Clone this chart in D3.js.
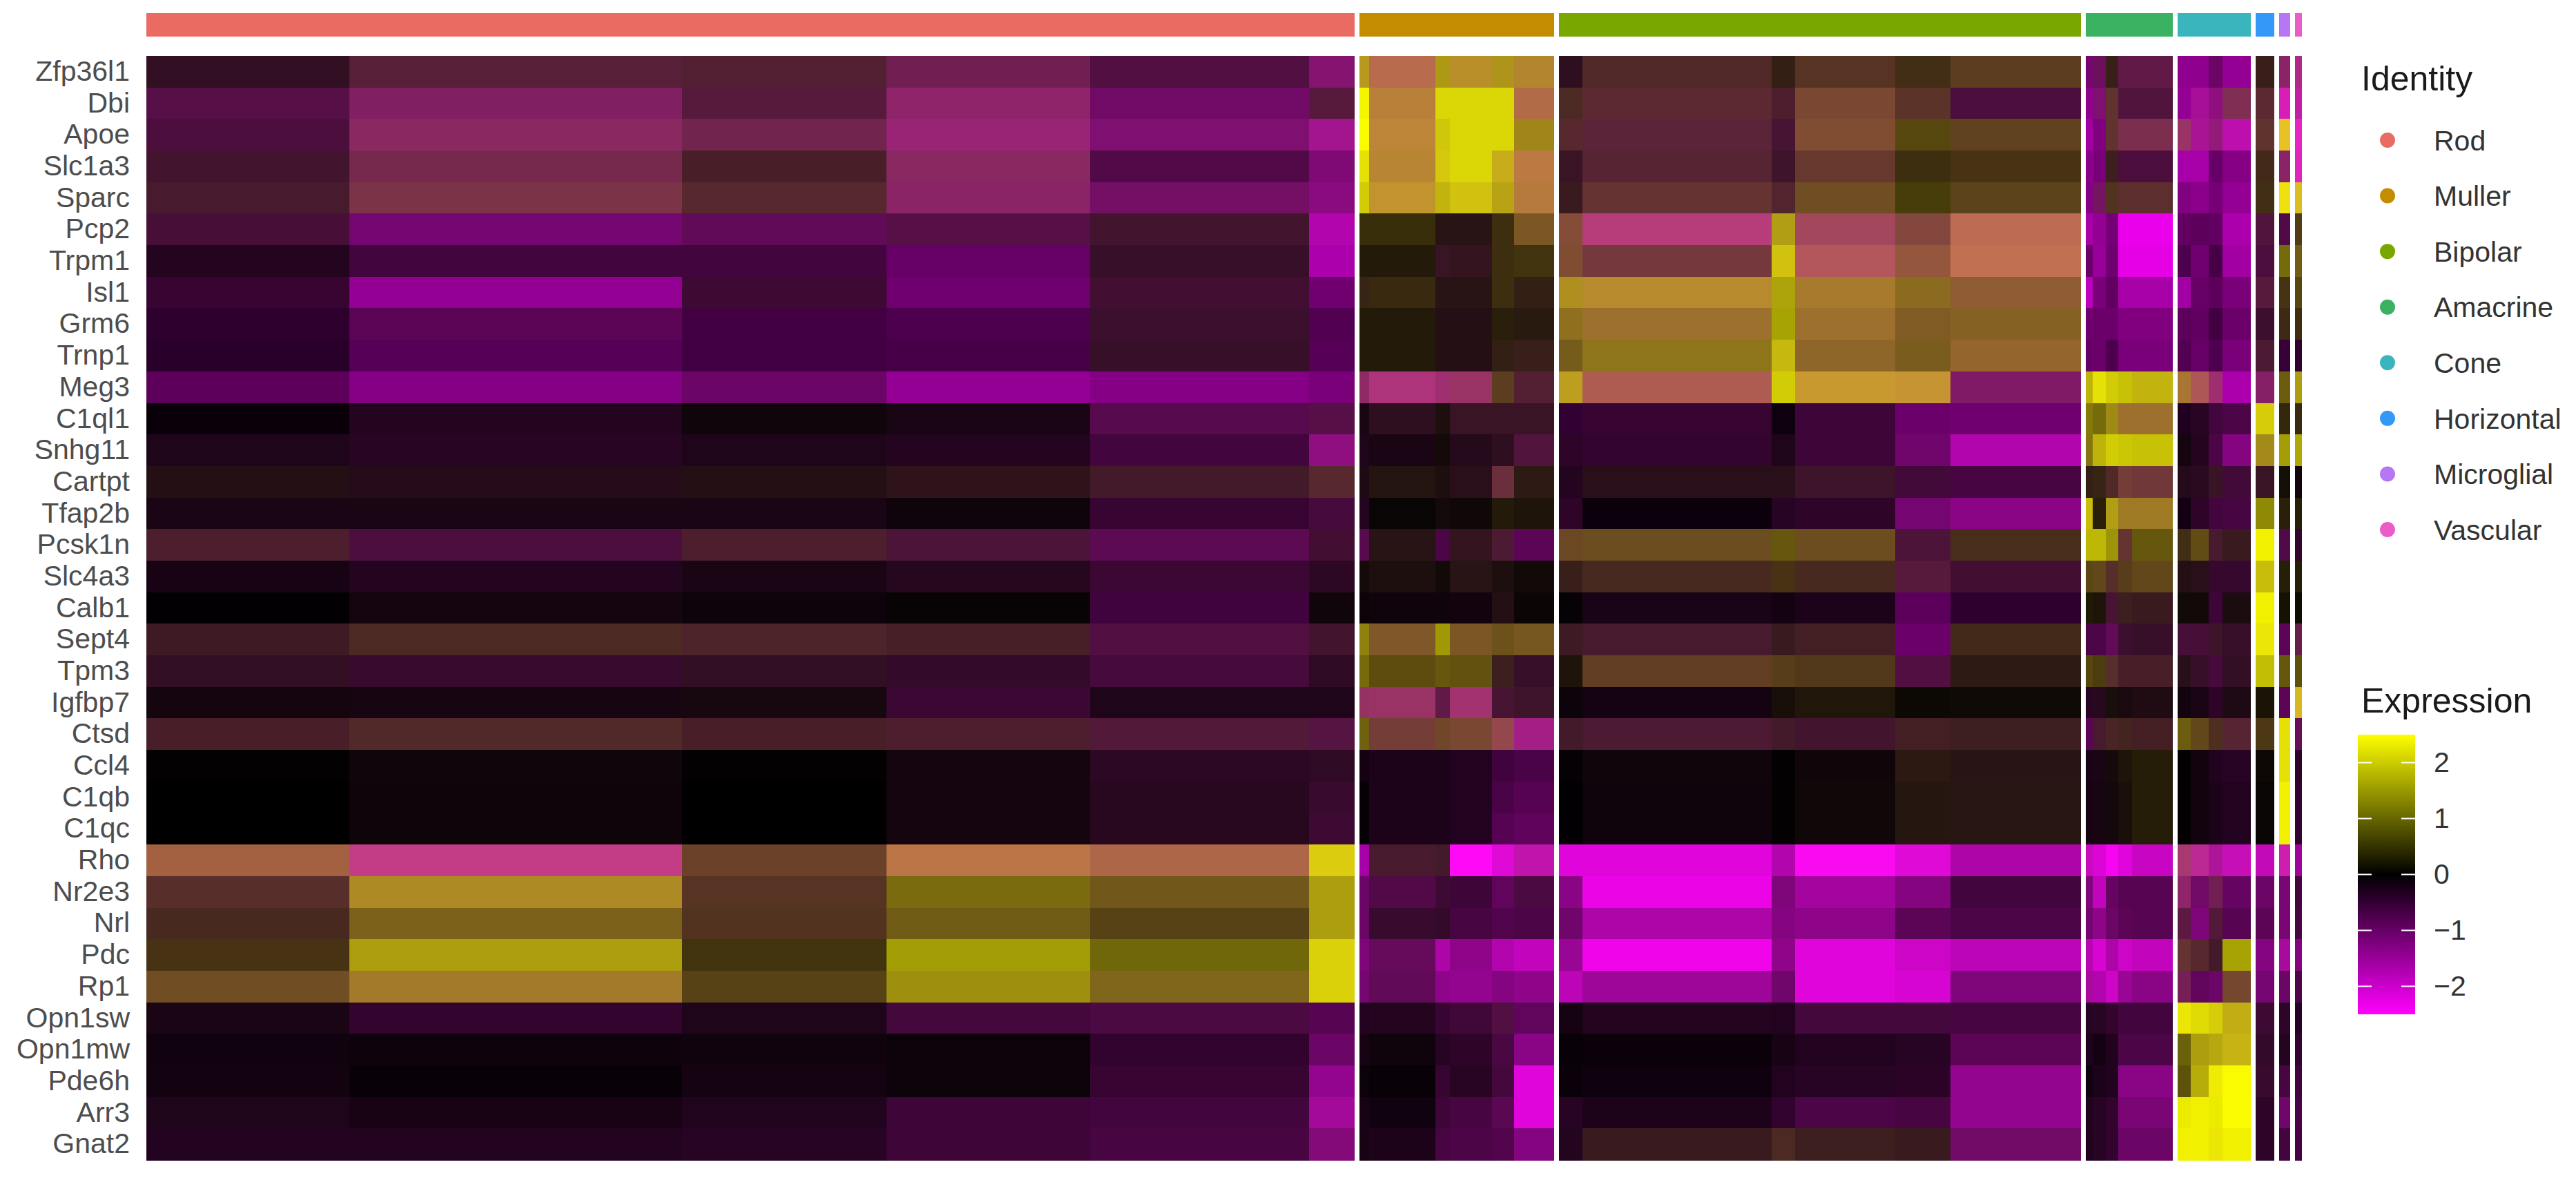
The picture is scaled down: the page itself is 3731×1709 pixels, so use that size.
<!DOCTYPE html>
<html>
<head>
<meta charset="utf-8">
<script src="https://cdn.jsdelivr.net/npm/d3@7"></script>
<style>
  html, body { margin: 0; padding: 0; background: #fff; }
  text { font-family: "Liberation Sans", Arial, sans-serif; }
</style>
</head>
<body>
<div id="chart"></div>
<script>
const width = 3731;
const height = 1709;

const genes = ["Zfp36l1", "Dbi", "Apoe", "Slc1a3", "Sparc", "Pcp2", "Trpm1", "Isl1", "Grm6", "Trnp1", "Meg3",
  "C1ql1", "Snhg11", "Cartpt", "Tfap2b", "Pcsk1n", "Slc4a3", "Calb1", "Sept4", "Tpm3", "Igfbp7", "Ctsd",
  "Ccl4", "C1qb", "C1qc", "Rho", "Nr2e3", "Nrl", "Pdc", "Rp1", "Opn1sw", "Opn1mw", "Pde6h", "Arr3", "Gnat2"];

const identities = ["Rod", "Muller", "Bipolar", "Amacrine", "Cone", "Horizontal", "Microglial", "Vascular"];
const identityColors = ["#E96B62", "#C48C00", "#7AA600", "#3AB262", "#3BB5BD", "#3399F8", "#B677F5", "#EA5CC8"];

// cells in each sub-cluster, one list per identity
const clusterCells = [
  [294, 482, 296, 295, 317, 66],
  [14, 96, 21, 61, 32, 58],
  [34, 274, 34, 145, 80, 189],
  [10, 19, 18, 20, 59],
  [19, 26, 20, 41],
  [27],
  [16],
  [10]
];

const legendTicks = [-2, -1, 0, 1, 2];

// Each sub-cluster holds cells above and below zero, which blend into brown and orange when
// squeezed into the picture, so each block has two values: mean of the high part, mean of the low part.
const exprHigh = [
  [.15,.3,.3,.3,.15,.2, 1.5,1.05,1.5,1.4,1.45,1.3, .15,.4,.3,.5,.45,.6, .05,.15,.3,.25,.25, 0,0,.05,0, .3,.35,.4],
  [.15,.3,.25,.35,.1,.25, 2.4,1.25,2.1,2.1,2.1,1.05, .4,.4,.3,.7,.5,.15, 0,.15,.5,.2,.2, 0,.15,.15,.45, .4,.3,.3],
  [.15,.4,.35,.35,.15,.2, 2.45,1.3,1.95,2.1,2.1,1.3, .4,.35,.2,.75,.7,.65, 0,0,.5,.45,.45, .5,.2,.25,.15, .5,1.9,.35],
  [.2,.4,.3,.4,.1,.1, 2.2,1.3,1.95,2.1,1.7,1.2, .2,.35,.2,.55,.45,.5, 0,0,.3,.15,.15, 0,0,0,0, .4,.35,.35],
  [.25,.5,.4,.35,.15,.1, 2,1.45,1.75,1.9,1.6,1.2, .25,.5,.35,.75,.6,.65, 0,.2,.5,.45,.45, 0,0,0,0, .45,2.2,1.85],
  [.15,.05,.1,.15,.2,.05, .45,.45,.2,.2,.45,.85, .75,.6,1.55,.7,.7,1.05, 0,0,0,0,0, 0,0,0,0, .2,.1,.6],
  [.05,.05,.05,0,.15,0, .25,.25,.2,.2,.45,.5, .75,.55,1.9,.85,.85,1.1, 0,0,0,0,0, 0,0,0,0, .15,1.05,.9],
  [.05,0,.1,0,.15,0, .35,.4,.2,.2,.45,.3, 1.4,1.35,1.6,1.2,1.05,.9, 0,0,0,0,0, 0,0,0,0, .25,.5,.7],
  [0,.05,0,0,.15,0, .25,.25,.15,.15,.3,.25, 1.1,1.1,1.6,1.1,.9,.95, 0,0,0,0,0, 0,0,0,0, .15,.4,.45],
  [0,0,0,0,.15,0, .25,.25,.15,.15,.3,.3, .9,1.15,1.8,1,.9,1, 0,0,0,0,0, 0,0,0,0, .25,0,0],
  [0,0,.05,0,0,0, .4,.5,.45,.5,.6,.3, 1.55,.9,2,1.5,1.45,.25, 1.75,2.2,2,1.9,1.75, 1.15,.85,.45,0, .3,.9,1.55],
  [0,.05,.05,.05,.1,.15, .05,.15,.15,.2,.2,.2, 0,.05,0,.05,0,0, 1.2,1.05,1.35,1.1,1.1, 0,.05,.05,.05, 2,.4,.4],
  [.05,.05,.05,.05,.05,.15, .05,.05,.1,.1,.15,.2, .05,.05,.05,.05,.05,.05, 1.15,1.75,2,1.95,1.9, .05,.05,.05,.05, 1.35,1.55,1.65],
  [.15,.12,.15,.2,.25,.4, .1,.2,.15,.15,.45,.25, .05,.15,.15,.2,.1,.05, .3,.35,.4,.6,.55, .1,.1,.2,.1, .2,.15,.05],
  [.05,.05,.05,.03,.05,.1, .05,.05,.1,.08,.25,.2, .05,0,.03,.05,.05,.05, 1.85,.3,1.55,1.2,1.2, 0,.05,.05,.05, 1.35,.3,.3],
  [.3,.15,.3,.2,.1,.15, .1,.2,.05,.2,.25,.05, .7,.75,.85,.75,.2,.45, 1.8,1.8,1.45,.5,.85, .45,.75,.25,.25, 2.35,.1,.05],
  [.03,.05,.05,.08,.08,.08, .1,.15,.1,.2,.15,.1, .3,.4,.5,.4,.25,.15, .7,.7,.45,.6,.7, .15,.15,.08,.08, 1.85,.3,.3],
  [0,.05,.03,.03,.03,.05, .03,.03,.03,.03,.15,.06, .02,.03,.02,.03,0,0, .25,.2,.2,.3,.25, .1,.1,.05,.12, 2.35,.18,.12],
  [.25,.4,.35,.3,.15,.2, 1.25,.85,1.5,.85,.8,.85, .25,.25,.25,.3,0,.4, .05,.05,.1,.15,.15, .15,.15,.2,.15, 2.25,.05,.3],
  [.15,.1,.15,.1,.1,.1, 1.05,.75,.85,.8,.3,.15, .2,.6,.6,.55,.15,.25, .7,.6,.45,.3,.3, .15,.15,.1,.15, 1.85,.85,.8],
  [.05,.05,.08,.08,.05,.05, .5,.5,.25,.5,.2,.2, .03,.03,.15,.22,.08,.1, .05,.08,.15,.1,.12, .03,.05,.05,.1, .2,.05,1.8],
  [.3,.4,.3,.3,.25,.2, .95,.6,.7,.7,.7,.3, .25,.25,.25,.2,.3,.3, .05,.25,.35,.35,.3, .9,.7,.45,.35, .55,2.2,.15],
  [.01,.05,.01,.05,.08,.1, .02,.03,.03,.03,.03,.03, .01,.05,.01,.06,.25,.2, .03,.05,.1,.2,.28, .01,.03,.03,.03, .08,2.2,.03],
  [0,.04,0,.05,.08,.1, .01,.03,.03,.03,.03,.03, 0,.04,.01,.08,.22,.22, .03,.05,.08,.15,.28, .01,.03,.03,.03, .05,2.35,.03],
  [0,.04,0,.05,.08,.1, .01,.03,.03,.03,.03,.03, 0,.04,.01,.08,.22,.22, .03,.05,.08,.15,.28, .01,.03,.03,.03, .05,2.35,.03],
  [.95,.6,.65,1.15,1,2, 0,.25,.25,.1,.1,.2, .05,.05,.05,.1,.1,.05, .1,.05,.05,.05,.05, .55,.4,.2,.15, .1,.3,.05],
  [.45,1.35,.5,1.05,.85,1.55, .05,.1,.1,.05,.05,.1, .05,.05,.05,.05,.05,.05, .05,.05,.05,.05,.05, .35,.1,.3,.05, .05,.05,.05],
  [.4,.95,.5,.9,.65,1.55, .05,.1,.1,.05,.05,.05, .05,.05,.05,.05,.05,.05, .05,.05,.05,.05,.05, .25,.05,.25,.05, .05,.05,.05],
  [.5,1.55,.5,1.55,1,2.05, .05,.1,.05,.05,.05,.05, .05,.05,.05,.05,.05,.05, .05,.05,.05,.05,.05, .5,.4,.25,1.6, .05,.1,.05],
  [.75,1.2,.65,1.4,1,2.05, .05,.1,.05,.05,.05,.05, .05,.05,.05,.05,.05,.05, .1,.05,.05,.05,.05, .3,.05,.05,.7, .05,.05,.05],
  [.05,.05,.05,.08,.1,.05, .03,.05,.05,.08,.15,.05, .03,.05,.03,.08,.08,.05, .03,.05,.05,.05,.05, 2.25,2.15,2,1.7, .1,.05,.02],
  [.02,.02,.03,.02,.03,.05, .03,.03,.03,.05,.08,.05, .01,.01,.03,.03,.03,.05, .02,.02,.03,.05,.05, .95,1.55,1.65,1.75, .1,.05,.03],
  [.03,.01,.03,.02,.05,.05, .02,.01,.05,.05,.08,.05, .01,.01,.03,.03,.03,.05, .02,.02,.03,.05,.05, .8,1.7,2.3,2.45, .1,.05,.03],
  [.05,.03,.03,.05,.05,.1, .03,.02,.05,.05,.08,.05, .03,.03,.03,.05,.05,.05, .02,.03,.03,.05,.05, 2.3,2.35,2.3,2.45, .05,.05,.03],
  [.03,.03,.03,.05,.05,.1, .03,.03,.05,.05,.05,.05, .05,.25,.4,.3,.25,.1, .03,.03,.03,.05,.05, 2.35,2.35,2.25,2.35, .05,.05,.03]
];

const exprLow = [
  [.35,.55,.5,.8,.65,1.1, .3,.75,.2,.4,.25,.45, .3,.4,.2,.35,.2,.3, 1.1,.9,.25,.7,.7, 1.4,1.4,1,1.45, .25,1,1.3],
  [.7,.95,.6,1.05,1,.6, 0,.55,.05,.05,.05,.7, .35,.5,.45,.5,.4,.6, 1.4,1.1,.45,.6,.6, 1.45,1.5,1.25,.8, .5,1.8,1.6],
  [.6,.95,.75,1.15,1.1,1.4, 0,.55,.1,.05,.05,.25, .45,.55,.5,.5,.15,.3, 1.6,1.25,.45,.75,.75, 1,1.45,1.2,1.7, .45,.35,1.9],
  [.45,.75,.4,.95,.7,1.15, .05,.5,.15,.05,.25,.65, .35,.5,.4,.45,.15,.2, 1.35,1.2,.3,.6,.6, 1.65,1.65,1,1.3, .25,1,1.85],
  [.45,.7,.45,1,1,1.25, .05,.45,.15,.15,.2,.6, .3,.5,.45,.35,.1,.25, 1.3,.95,.3,.45,.45, 1.25,1.35,1.15,1.45, .2,.15,.3],
  [.55,1.1,.85,.7,.45,1.7, .1,.1,.2,.2,.15,.35, .55,1.2,.2,.9,.6,.8, 1.65,1.45,1.15,2.3,2.3, .95,.9,.95,1.7, .6,.7,.2],
  [.3,.6,.6,1,.4,1.7, .1,.1,.35,.3,.15,.15, .5,.6,.15,.9,.6,.8, 1.05,1.5,1.1,2.25,2.25, .75,1.1,.7,1.6, .6,.1,.2],
  [.5,1.45,.5,1.1,.5,1.1, .2,.15,.2,.2,.15,.2, .3,.45,.1,.45,.3,.5, 1.85,1.2,.95,1.65,1.65, 1.6,1,.9,1.2, .6,.2,.15],
  [.45,.85,.65,.75,.45,.8, .1,.1,.2,.2,.1,.15, .3,.45,.05,.45,.35,.35, 1.1,1.05,1.05,1.25,1.25, .9,.95,.65,1.05, .45,.2,.15],
  [.4,.85,.65,.7,.4,.85, .1,.1,.2,.2,.2,.25, .25,.25,.15,.4,.3,.45, 1,1.05,.75,1.2,1.2, .8,1,.75,1.2, .5,.55,.45],
  [.9,1.3,1,1.45,1.3,1.2, 1,1.2,1.1,1,.3,.5, .3,.8,.05,.45,.5,1, .1,.05,.05,.05,.15, .5,.85,1.1,1.7, 1,.15,.15],
  [.1,.3,.1,.2,.75,.7, .2,.3,.15,.35,.35,.35, .5,.5,.15,.55,1.05,1.1, .1,.1,.2,.45,.45, .3,.35,.6,.7, .1,.1,.15],
  [.25,.35,.25,.3,.6,1.25, .25,.2,.1,.25,.3,.6, .4,.45,.25,.55,1.05,1.7, .15,.1,.05,.05,.05, .15,.3,.7,1.25, .25,.05,.05],
  [.2,.25,.2,.25,.4,.45, .2,.15,.15,.25,.6,.2, .3,.25,.25,.4,.55,.65, .2,.2,.4,.55,.55, .25,.3,.35,.55, .35,.05,.1],
  [.2,.2,.2,.12,.5,.6, .3,.05,.1,.08,.1,.1, .4,.12,.35,.4,1.1,1.3, .1,.1,.2,.35,.35, .2,.4,.6,.65, .05,.1,.05],
  [.45,.6,.45,.55,.8,.5, .75,.2,.7,.3,.5,.85, .35,.3,.15,.3,.55,.25, .05,.05,.1,.5,.15, .2,.2,.45,.3, 0,.7,.45],
  [.2,.3,.2,.28,.5,.35, .1,.15,.08,.2,.15,.08, .25,.3,.2,.3,.6,.5, .2,.25,.4,.25,.25, .2,.25,.45,.45, .1,.05,.05],
  [.03,.15,.1,.05,.6,.12, .08,.12,.12,.15,.2,.05, .05,.22,.18,.25,.9,.45, .05,.1,.5,.3,.3, .08,.08,.55,.15, 0,.03,.03],
  [.35,.35,.4,.38,.65,.45, .15,.4,.05,.35,.25,.3, .35,.45,.3,.35,1.05,.25, .7,.7,.85,.45,.4, .55,.55,.4,.4, .05,.85,.7],
  [.35,.45,.35,.4,.6,.35, .1,.15,.15,.15,.3,.4, .1,.35,.25,.25,.65,.2, .15,.15,.4,.4,.4, .25,.4,.6,.35, .05,.15,.1],
  [.15,.18,.15,.5,.25,.25, .95,1,.7,1.1,.5,.4, .1,.18,.08,.1,.04,.06, .35,.3,.1,.15,.18, .15,.2,.4,.2, .05,.85,.3],
  [.4,.4,.4,.45,.55,.65, .15,.55,.4,.5,.75,1.3, .4,.5,.4,.45,.35,.3, .85,.45,.35,.3,.35, .15,.25,.3,.5, .2,.05,.85],
  [.02,.1,.02,.15,.35,.35, .18,.25,.25,.3,.6,.7, .05,.12,.03,.1,.18,.2, .22,.2,.12,.1,.08, .03,.15,.3,.35, .05,.05,.4],
  [.01,.1,.01,.15,.3,.45, .05,.25,.25,.3,.7,.8, .02,.12,.03,.08,.15,.18, .2,.18,.12,.12,.08, .03,.15,.25,.3, .05,0,.45],
  [.01,.1,.01,.15,.3,.5, .05,.25,.25,.3,.8,.9, .02,.12,.03,.08,.15,.18, .2,.18,.12,.12,.08, .03,.15,.25,.3, .05,0,.45],
  [.65,1.3,.4,.7,.7,.15, 1.65,.45,.4,2.4,2.1,1.7, 2.15,2.15,1.7,2.35,2.1,1.65, 1.85,2.1,2.35,2.15,1.9, 1.1,1.45,1.5,1.8, 1.8,1.7,1.5],
  [.4,.35,.35,.15,.25,.15, 1,.7,.5,.55,.9,.65, 1.3,2.25,1.2,1.55,1.25,.6, 1.2,1.85,.95,.8,.8, 1.05,1,.8,.95, 1,1.15,.6],
  [.3,.25,.3,.2,.2,.15, 1,.45,.4,.65,.75,.7, 1.05,1.65,1.25,1.35,.85,.7, 1.1,1.35,1,.85,.8, .65,1.2,.55,.8, .85,1.15,.65],
  [.2,.15,.15,.05,.1,.1, 1.2,.9,1.65,1.35,1.7,1.85, 1.45,2.3,1.35,2.15,1.95,1.8, 1.75,2.05,1.65,1.95,1.85, .5,.45,.4,.05, 1.25,1.55,1.25],
  [.35,.4,.2,.15,.25,.1, 1.1,.85,1.35,1.4,1.25,1.35, 1.8,1.5,1.05,2.15,2.05,1.2, 1.55,1.7,1.95,1.45,1.3, .85,.9,1,.45, 1.1,1,.7],
  [.2,.45,.25,.6,.65,.8, .3,.3,.5,.55,.65,.9, .18,.3,.3,.6,.6,.65, .35,.35,.45,.6,.6, .05,.05,.1,.2, .5,.4,.35],
  [.15,.12,.14,.1,.45,1, .2,.12,.35,.4,.65,1.3, .08,.1,.2,.3,.35,.85, .28,.18,.3,.7,.7, .1,.15,.15,.2, .4,.3,.45],
  [.16,.08,.18,.1,.5,1.4, .1,.08,.5,.35,.6,2.15, .1,.14,.3,.35,.38,1.4, .14,.25,.3,1.3,1.3, .1,.1,.05,0, .45,.65,.6],
  [.25,.2,.28,.55,.6,1.5, .2,.15,.55,.65,.8,2.15, .35,.25,.45,.7,.65,1.4, .3,.35,.45,1.15,1.15, 0,0,0,0, .4,1.05,.7],
  [.3,.3,.35,.55,.65,1.2, .2,.25,.65,.7,.75,1.25, .3,.3,.35,.3,.3,1, .3,.35,.45,1,1, 0,0,.05,0, .4,.6,.65]
];

const svg = d3.select("#chart")
  .append("svg")
  .attr("width", width)
  .attr("height", height)
  .style("display", "block");

const color = d3.scaleLinear()
  .domain([-2.5, 0, 2.5])
  .range(["#ff00ff", "#000000", "#ffff00"]);

// blend of the high and the low part of a block
function blockColor(hi, lo) {
  const a = d3.rgb(color(hi));
  const b = d3.rgb(color(-lo));
  return d3.rgb(a.r + b.r, a.g + b.g, a.b + b.b).clamp().formatRgb();
}

// lay the clusters out along one cell axis, with a fixed gap between identities
const gapCells = 7;
const blocks = [];
const groups = [];
let cursor = 0;
clusterCells.forEach((cells, g) => {
  const start = cursor;
  cells.forEach(n => {
    blocks.push({ start: cursor, end: cursor + n });
    cursor += n;
  });
  groups.push({ name: identities[g], start, end: cursor });
  cursor += gapCells;
});
const totalCells = cursor - gapCells;

const x = d3.scaleLinear().domain([0, totalCells]).range([212, 3334]);
const y = d3.scaleBand().domain(genes).range([81, 1680]);

// heatmap
const rows = svg.append("g").attr("class", "heatmap")
  .selectAll("g")
  .data(genes)
  .enter()
  .append("g");

rows.selectAll("rect")
  .data((gene, r) => blocks.map((b, c) => ({ ...b, gene, hi: exprHigh[r][c], lo: exprLow[r][c] })))
  .enter()
  .append("rect")
  .attr("x", d => x(d.start))
  .attr("y", d => y(d.gene))
  .attr("width", d => x(d.end) - x(d.start))
  .attr("height", y.bandwidth() + 0.5)
  .attr("shape-rendering", "crispEdges")
  .attr("fill", d => blockColor(d.hi, d.lo));

// identity bar above the heatmap
svg.append("g").selectAll("rect")
  .data(groups)
  .enter()
  .append("rect")
  .attr("x", d => x(d.start))
  .attr("y", 19)
  .attr("width", d => x(d.end) - x(d.start))
  .attr("height", 34)
  .attr("fill", (d, i) => identityColors[i]);

// gene labels
const yAxis = svg.append("g")
  .attr("transform", "translate(196,0)")
  .call(d3.axisLeft(y).tickSize(0).tickPadding(8));
yAxis.select(".domain").remove();
yAxis.selectAll("text")
  .attr("font-size", 41)
  .attr("fill", "#4d4d4d");

// Identity legend
svg.append("text")
  .attr("x", 3420)
  .attr("y", 131)
  .attr("font-size", 50)
  .attr("fill", "#1a1a1a")
  .text("Identity");

const legendY = d3.scalePoint().domain(identities).range([203, 767]);

const legendRows = svg.append("g").selectAll("g")
  .data(identities)
  .enter()
  .append("g")
  .attr("transform", d => `translate(0,${legendY(d)})`);

legendRows.append("circle")
  .attr("cx", 3458)
  .attr("r", 11)
  .attr("fill", (d, i) => identityColors[i]);

legendRows.append("text")
  .attr("x", 3525)
  .attr("dy", "0.36em")
  .attr("font-size", 41)
  .attr("fill", "#333")
  .text(d => d);

// Expression legend
svg.append("text")
  .attr("x", 3420)
  .attr("y", 1032)
  .attr("font-size", 50)
  .attr("fill", "#1a1a1a")
  .text("Expression");

const barY = d3.scaleLinear().domain([-2.5, 2.5]).range([1469, 1064]);

const gradient = svg.append("defs").append("linearGradient")
  .attr("id", "expr-gradient")
  .attr("x1", 0).attr("y1", 1).attr("x2", 0).attr("y2", 0);
gradient.selectAll("stop")
  .data(color.domain())
  .enter()
  .append("stop")
  .attr("offset", d => (d + 2.5) / 5)
  .attr("stop-color", d => color(d));

svg.append("rect")
  .attr("x", 3415)
  .attr("y", barY(2.5))
  .attr("width", 83)
  .attr("height", barY(-2.5) - barY(2.5))
  .attr("fill", "url(#expr-gradient)");

const barTicks = svg.append("g").selectAll("g")
  .data(legendTicks)
  .enter()
  .append("g")
  .attr("transform", d => `translate(0,${barY(d)})`);

barTicks.append("line").attr("x1", 3415).attr("x2", 3435).attr("stroke", "#fff").attr("stroke-width", 2);
barTicks.append("line").attr("x1", 3478).attr("x2", 3498).attr("stroke", "#fff").attr("stroke-width", 2);

const barAxis = svg.append("g")
  .attr("transform", "translate(3517,0)")
  .call(d3.axisRight(barY).tickValues(legendTicks).tickSize(0).tickPadding(8).tickFormat(d3.format("d")));
barAxis.select(".domain").remove();
barAxis.selectAll("text")
  .attr("font-size", 41)
  .attr("fill", "#333");
</script>
</body>
</html>
